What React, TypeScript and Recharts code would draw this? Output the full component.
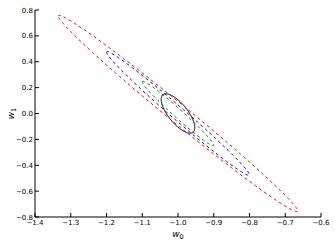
import { Line, LineChart, XAxis, YAxis } from "recharts";

const W0_TICKS = [-1.4, -1.3, -1.2, -1.1, -1.0, -0.9, -0.8, -0.7, -0.6];
const W1_TICKS = [-0.8, -0.6, -0.4, -0.2, 0.0, 0.2, 0.4, 0.6, 0.8];

// contours, innermost first
const CONTOUR_COLORS = ["#000000", "#008000", "#0000ff", "#ff0000"];
const CONTOUR_DASH = ["", "3 3", "3 3", "3 3"];
const CENTER_W0 = [-1.0, -1.0, -1.0, -1.0];
const CENTER_W1 = [0.0, 0.0, 0.0, 0.0];
// leftmost point of each contour, relative to its centre
const LEFT_DW0 = [-0.047, -0.1, -0.2, -0.335];
const LEFT_DW1 = [0.109, 0.245, 0.474, 0.753];
// half height of each contour on the vertical through its centre
const HALF_H_W1 = [0.106, 0.045, 0.066, 0.093];

const N = 160;

function contour(i: number) {
  const pts = [];
  for (let k = 0; k <= N; k++) {
    const t = (2 * Math.PI * k) / N;
    pts.push({
      w0: CENTER_W0[i] + LEFT_DW0[i] * Math.cos(t),
      w1: CENTER_W1[i] + LEFT_DW1[i] * Math.cos(t) + HALF_H_W1[i] * Math.sin(t),
    });
  }
  return pts;
}

const fmt = (v: number) => v.toFixed(1).replace("-", "\u2212");
const FONT = "DejaVu Sans, sans-serif";
const TICK = 4;

function BottomTick({ x, y, payload }: any) {
  return (
    <g>
      <line x1={x} y1={y} x2={x} y2={y - TICK} stroke="#000" />
      <text x={x} y={y + 8} textAnchor="middle" fontFamily={FONT} fontSize={7} fill="#000">
        {fmt(payload.value)}
      </text>
    </g>
  );
}

function TopTick({ x, y }: any) {
  return <line x1={x} y1={y} x2={x} y2={y + TICK} stroke="#000" />;
}

function LeftTick({ x, y, payload }: any) {
  return (
    <g>
      <line x1={x} y1={y} x2={x + TICK} y2={y} stroke="#000" />
      <text x={x - 2} y={y + 2.5} textAnchor="end" fontFamily={FONT} fontSize={7} fill="#000">
        {fmt(payload.value)}
      </text>
    </g>
  );
}

function RightTick({ x, y }: any) {
  return <line x1={x} y1={y} x2={x - TICK} y2={y} stroke="#000" />;
}

export default function App() {
  return (
    <div style={{ position: "absolute", left: 0, top: 0, background: "#fff" }}>
      <LineChart width={335} height={246} margin={{ top: 10, right: 14, bottom: 0, left: 0 }}>
        <XAxis
          dataKey="w0"
          type="number"
          domain={[-1.4, -0.6]}
          ticks={W0_TICKS}
          allowDataOverflow
          height={29}
          tickSize={0}
          tickMargin={0}
          tickLine={false}
          axisLine={{ stroke: "#000" }}
          tick={<BottomTick />}
          interval={0}
          label={{
            content: ({ viewBox }: any) => (
              <text
                x={viewBox.x + viewBox.width / 2}
                y={viewBox.y + 20}
                textAnchor="middle"
                fontFamily={FONT}
                fontSize={9}
                fill="#000"
              >
                <tspan fontStyle="italic">w</tspan>
                <tspan fontSize={6.5} dy={2}>0</tspan>
              </text>
            ),
          }}
        />
        <XAxis
          xAxisId="top"
          orientation="top"
          type="number"
          domain={[-1.4, -0.6]}
          ticks={W0_TICKS}
          allowDataOverflow
          height={0}
          tickSize={0}
          tickMargin={0}
          tickLine={false}
          axisLine={{ stroke: "#000" }}
          tick={<TopTick />}
          interval={0}
        />
        <YAxis
          type="number"
          domain={[-0.8, 0.8]}
          ticks={W1_TICKS}
          allowDataOverflow
          width={35}
          tickSize={0}
          tickMargin={0}
          tickLine={false}
          axisLine={{ stroke: "#000" }}
          tick={<LeftTick />}
          interval={0}
          label={{
            content: ({ viewBox }: any) => {
              const cx = 11;
              const cy = viewBox.y + viewBox.height / 2;
              return (
                <text
                  x={cx}
                  y={cy + 3}
                  transform={`rotate(-90, ${cx}, ${cy})`}
                  textAnchor="middle"
                  fontFamily={FONT}
                  fontSize={9}
                  fill="#000"
                >
                  <tspan fontStyle="italic">w</tspan>
                  <tspan fontSize={6.5} dy={2}>1</tspan>
                </text>
              );
            },
          }}
        />
        <YAxis
          yAxisId="right"
          orientation="right"
          type="number"
          domain={[-0.8, 0.8]}
          ticks={W1_TICKS}
          allowDataOverflow
          width={0}
          tickSize={0}
          tickMargin={0}
          tickLine={false}
          axisLine={{ stroke: "#000" }}
          tick={<RightTick />}
          interval={0}
        />
        {CONTOUR_COLORS.map((c, i) => (
          <Line
            key={c}
            data={contour(i)}
            dataKey="w1"
            type="linear"
            stroke={c}
            strokeWidth={1}
            strokeDasharray={CONTOUR_DASH[i] || undefined}
            dot={false}
            activeDot={false}
            isAnimationActive={false}
          />
        ))}
      </LineChart>
    </div>
  );
}
